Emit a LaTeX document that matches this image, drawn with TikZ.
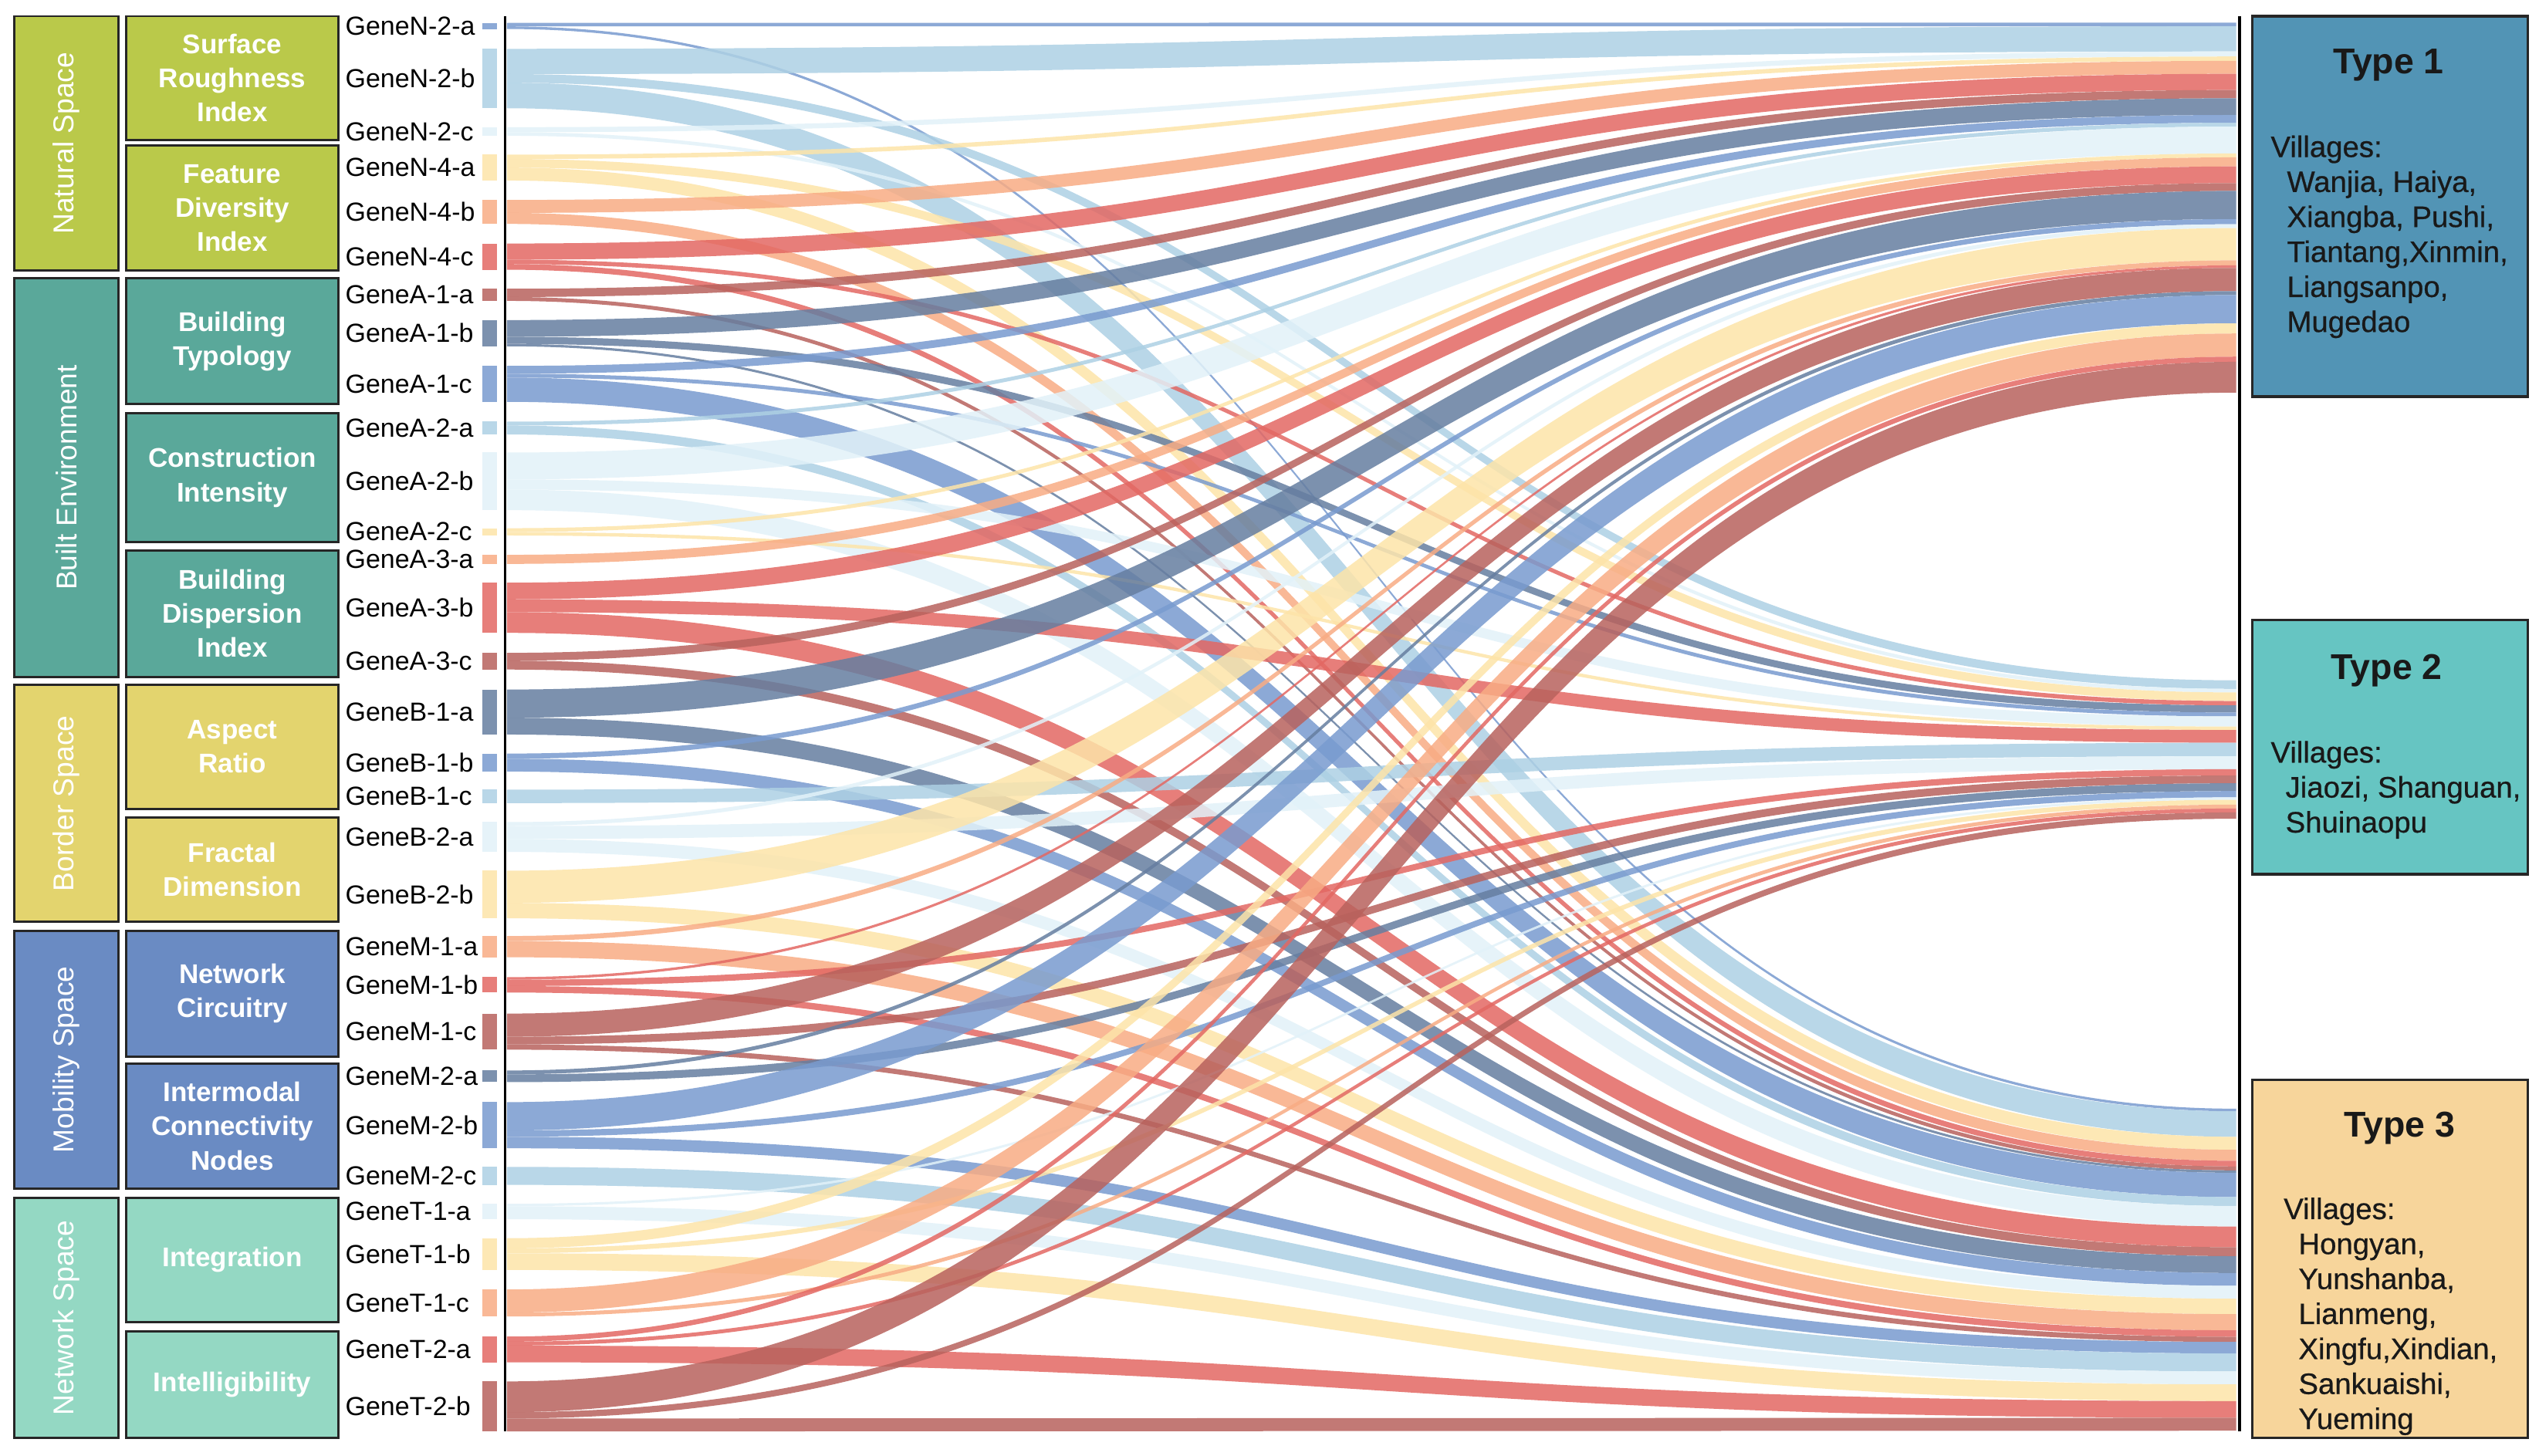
\documentclass[tikz,border=0pt]{standalone}
\usepackage{fontspec}
\setmainfont{Liberation Sans}
\newfontfamily\vilfont[FakeBold=0.6]{Liberation Sans}
\definecolor{cSlate}{HTML}{667EA0}
\definecolor{cMed}{HTML}{799BCF}
\definecolor{cLtb}{HTML}{ADD0E4}
\definecolor{cVlb}{HTML}{E2F2F9}
\definecolor{cYel}{HTML}{FDE4A9}
\definecolor{cSal}{HTML}{F8AC84}
\definecolor{cRed}{HTML}{E36863}
\definecolor{cRose}{HTML}{B8625D}
\definecolor{cNat}{HTML}{BAC94A}
\definecolor{cBuilt}{HTML}{5AA89A}
\definecolor{cBorder}{HTML}{E3D46E}
\definecolor{cMob}{HTML}{6A8BC3}
\definecolor{cNet}{HTML}{94D8C3}
\definecolor{cTA}{HTML}{5294B5}
\definecolor{cTB}{HTML}{66C5C2}
\definecolor{cTC}{HTML}{F7D59B}
\definecolor{boxline}{HTML}{262626}
\tikzset{
  genebar/.style={rectangle, draw=none, minimum width=0.18cm, inner sep=0pt, outer sep=0pt, fill opacity=0.85},
  genelab/.style={anchor=west, inner sep=0pt, font=\fontsize{9.2}{11}\selectfont, text=black},
  catbox/.style={rectangle, draw=boxline, line width=0.8pt, inner sep=0pt},
  subbox/.style={catbox, text=white, align=center, font=\bfseries\fontsize{9.5}{12}\selectfont},
  cattext/.style={rotate=90, text=white, inner sep=0pt, font=\fontsize{10.1}{12}\selectfont},
  typebox/.style={rectangle, draw=boxline, line width=0.9pt, inner sep=0pt},
  typetitle/.style={inner sep=0pt, font=\bfseries\fontsize{12.6}{14}\selectfont, text=black!90},
  villages/.style={anchor=north west, inner sep=0pt, align=left, font=\vilfont\fontsize{10.4}{12.3}\selectfont, text=black!90},
  axisline/.style={line width=1pt, black},
  flowfill/.style={fill opacity=0.85},
}
\newcommand\boxnode[7]{%
  \pgfmathsetmacro\bxw{(#4-#2)*0.02}%
  \pgfmathsetmacro\bxh{(#5-#3)*0.02}%
  \pgfmathsetmacro\bxc{(#2+#4)/2}%
  \pgfmathsetmacro\byc{(#3+#5)/2}%
  \node[#6, minimum width=\bxw cm, minimum height=\bxh cm] (#1) at (\bxc,\byc) {#7};%
}
\newcommand\flowband[5]{% name, color, source top, width, target top
  \pgfmathsetmacro\fsb{#3+#4}%
  \pgfmathsetmacro\ftb{#5+#4}%
  \coordinate (#1s1) at (313,#3);
  \coordinate (#1s2) at (313,\fsb);
  \coordinate (#1t1) at (1381,#5);
  \coordinate (#1t2) at (1381,\ftb);
  \fill[#2, flowfill] (#1s1) .. controls +(534,0) and +(-534,0) .. (#1t1) -- (#1t2) .. controls +(-534,0) and +(534,0) .. (#1s2) -- cycle;
}
\def\cA{14}\def\cB{420.2}\def\cC{684.8}
\newcommand\gene[7]{% name, label, color, center y, f1, f2, f3
  \pgfmathsetmacro\gH{#5+#6+#7}%
  \pgfmathsetmacro\gT{#4-\gH/2}%
  \pgfmathsetmacro\sOne{\gT+#5}%
  \pgfmathsetmacro\sTwo{\gT+#5+#6}%
  \node[genebar, fill=#3, minimum height=\gH*0.02cm] (b#1) at (302.5,#4) {};
  \node[genelab] (l#1) at (213,#4) {#2};
  \ifdim#5pt>0pt \flowband{#1-1}{#3}{\gT}{#5}{\cA}\pgfmathsetmacro\tmp{\cA+#5}\xdef\cA{\tmp}\fi
  \ifdim#6pt>0pt \flowband{#1-2}{#3}{\sOne}{#6}{\cB}\pgfmathsetmacro\tmp{\cB+#6}\xdef\cB{\tmp}\fi
  \ifdim#7pt>0pt \flowband{#1-3}{#3}{\sTwo}{#7}{\cC}\pgfmathsetmacro\tmp{\cC+#7}\xdef\cC{\tmp}\fi
}
\begin{document}
\begin{tikzpicture}[x=0.02cm, y=-0.02cm]
\useasboundingbox (0,0) rectangle (1568,899);
\fill[white] (0,0) rectangle (1568,899);
% genes and flows
\gene{N2a}{GeneN-2-a}{cMed}{16}{2.2}{0}{1.6}
\gene{N2b}{GeneN-2-b}{cLtb}{48.5}{15.6}{5.3}{15.8}
\gene{N2c}{GeneN-2-c}{cVlb}{81.2}{3.1}{2.2}{0}
\gene{N4a}{GeneN-4-a}{cYel}{103.5}{2.7}{5.3}{8}
\gene{N4b}{GeneN-4-b}{cSal}{130.9}{8}{0}{6.8}
\gene{N4c}{GeneN-4-c}{cRed}{158.5}{10}{2.7}{3.5}
\gene{A1a}{GeneA-1-a}{cRose}{182.1}{5.1}{0}{2.4}
\gene{A1b}{GeneA-1-b}{cSlate}{205.8}{10.3}{4.4}{1.5}
\gene{A1c}{GeneA-1-c}{cMed}{237.1}{4.8}{2.4}{15}
\gene{A2a}{GeneA-2-a}{cLtb}{264.4}{2.4}{0}{5.5}
\gene{A2b}{GeneA-2-b}{cVlb}{297.3}{16.6}{6.3}{12.7}
\gene{A2c}{GeneA-2-c}{cYel}{328.5}{2.4}{2.1}{0}
\gene{A3a}{GeneA-3-a}{cSal}{345.5}{5.6}{0}{0}
\gene{A3b}{GeneA-3-b}{cRed}{375.4}{10.3}{7.9}{12.8}
\gene{A3c}{GeneA-3-c}{cRose}{408.4}{4.8}{0}{5.5}
\gene{B1a}{GeneB-1-a}{cSlate}{439.8}{17.4}{0}{10.4}
\gene{B1b}{GeneB-1-b}{cMed}{471}{3.2}{0}{7.9}
\gene{B1c}{GeneB-1-c}{cLtb}{491.9}{0}{8.3}{0}
\gene{B2a}{GeneB-2-a}{cVlb}{517}{2.4}{8}{8}
\gene{B2b}{GeneB-2-b}{cYel}{552.5}{19.9}{0}{9.5}
\gene{M1a}{GeneM-1-a}{cSal}{584.7}{3.1}{0}{10}
\gene{M1b}{GeneM-1-b}{cRed}{608.3}{1.6}{3.9}{4}
\gene{M1c}{GeneM-1-c}{cRose}{637.2}{14.3}{4.8}{3.2}
\gene{M2a}{GeneM-2-a}{cSlate}{664.8}{2.4}{4.8}{0}
\gene{M2b}{GeneM-2-b}{cMed}{695}{17.5}{3.9}{7.1}
\gene{M2c}{GeneM-2-c}{cLtb}{726.3}{0}{0}{11.1}
\gene{T1a}{GeneT-1-a}{cVlb}{748.3}{0}{1.5}{8}
\gene{T1b}{GeneT-1-b}{cYel}{774.6}{6.3}{3}{10.3}
\gene{T1c}{GeneT-1-c}{cSal}{804.8}{14.3}{2.4}{0}
\gene{T2a}{GeneT-2-a}{cRed}{833.5}{3.2}{2.4}{10.3}
\gene{T2b}{GeneT-2-b}{cRose}{868.7}{19}{3.9}{8}
% axis lines
\coordinate (axLt) at (312,10);
\coordinate (axLb) at (312,884);
\coordinate (axRt) at (1383,10);
\coordinate (axRb) at (1383,884);
\draw[axisline] (axLt) -- (axLb);
\draw[axisline] (axRt) -- (axRb);
% category boxes
\boxnode{natural}{9}{10}{73}{167}{catbox, fill=cNat}{}
\boxnode{built}{9}{172}{73}{418}{catbox, fill=cBuilt}{}
\boxnode{border}{9}{423}{73}{569.5}{catbox, fill=cBorder}{}
\boxnode{mobility}{9}{575}{73}{734}{catbox, fill=cMob}{}
\boxnode{network}{9}{740}{73}{888}{catbox, fill=cNet}{}
\node[cattext] (naturalT) at (natural) {Natural Space};
\node[cattext] (builtT) at (built) {Built Environment};
\node[cattext] (borderT) at (border) {Border Space};
\node[cattext] (mobilityT) at (mobility) {Mobility Space};
\node[cattext] (networkT) at (network) {Network Space};
% sub boxes
\boxnode{sri}{78}{10}{209}{86.5}{subbox, fill=cNat}{Surface\\Roughness\\Index}
\boxnode{fdi}{78}{90}{209}{167}{subbox, fill=cNat}{Feature\\Diversity\\Index}
\boxnode{bt}{78}{172}{209}{249.5}{subbox, fill=cBuilt}{Building\\Typology}
\boxnode{ci}{78}{255}{209}{335}{subbox, fill=cBuilt}{Construction\\Intensity}
\boxnode{bdi}{78}{340}{209}{418}{subbox, fill=cBuilt}{Building\\Dispersion\\Index}
\boxnode{ar}{78}{423}{209}{499.5}{subbox, fill=cBorder}{Aspect\\Ratio}
\boxnode{fd}{78}{505}{209}{569.5}{subbox, fill=cBorder}{Fractal\\Dimension}
\boxnode{nc}{78}{575}{209}{652.5}{subbox, fill=cMob}{Network\\Circuitry}
\boxnode{icn}{78}{657}{209}{734}{subbox, fill=cMob}{Intermodal\\Connectivity\\Nodes}
\boxnode{integ}{78}{740}{209}{816.5}{subbox, fill=cNet}{Integration}
\boxnode{intel}{78}{822.5}{209}{888}{subbox, fill=cNet}{Intelligibility}
% type boxes
\boxnode{type1}{1391}{10}{1561}{245}{typebox, fill=cTA}{}
\boxnode{type2}{1391}{383}{1561}{540}{typebox, fill=cTB}{}
\boxnode{type3}{1391}{667}{1561}{888}{typebox, fill=cTC}{}
\node[typetitle] (t1title) at (1475,40) {Type 1};
\node[typetitle] (t2title) at (1474,414) {Type 2};
\node[typetitle] (t3title) at (1482,697) {Type 3};
\node[villages] (t1vill) at (1402,83.4) {Villages:\\\hspace*{5.7pt}Wanjia, Haiya,\\\hspace*{5.7pt}Xiangba, Pushi,\\\hspace*{5.7pt}Tiantang,Xinmin,\\\hspace*{5.7pt}Liangsanpo,\\\hspace*{5.7pt}Mugedao};
\node[villages] (t2vill) at (1402,457.4) {Villages:\\\hspace*{5.2pt}Jiaozi, Shanguan,\\\hspace*{5.2pt}Shuinaopu};
\node[villages] (t3vill) at (1410,739.4) {Villages:\\\hspace*{5.2pt}Hongyan,\\\hspace*{5.2pt}Yunshanba,\\\hspace*{5.2pt}Lianmeng,\\\hspace*{5.2pt}Xingfu,Xindian,\\\hspace*{5.2pt}Sankuaishi,\\\hspace*{5.2pt}Yueming};
\end{tikzpicture}
\end{document}
